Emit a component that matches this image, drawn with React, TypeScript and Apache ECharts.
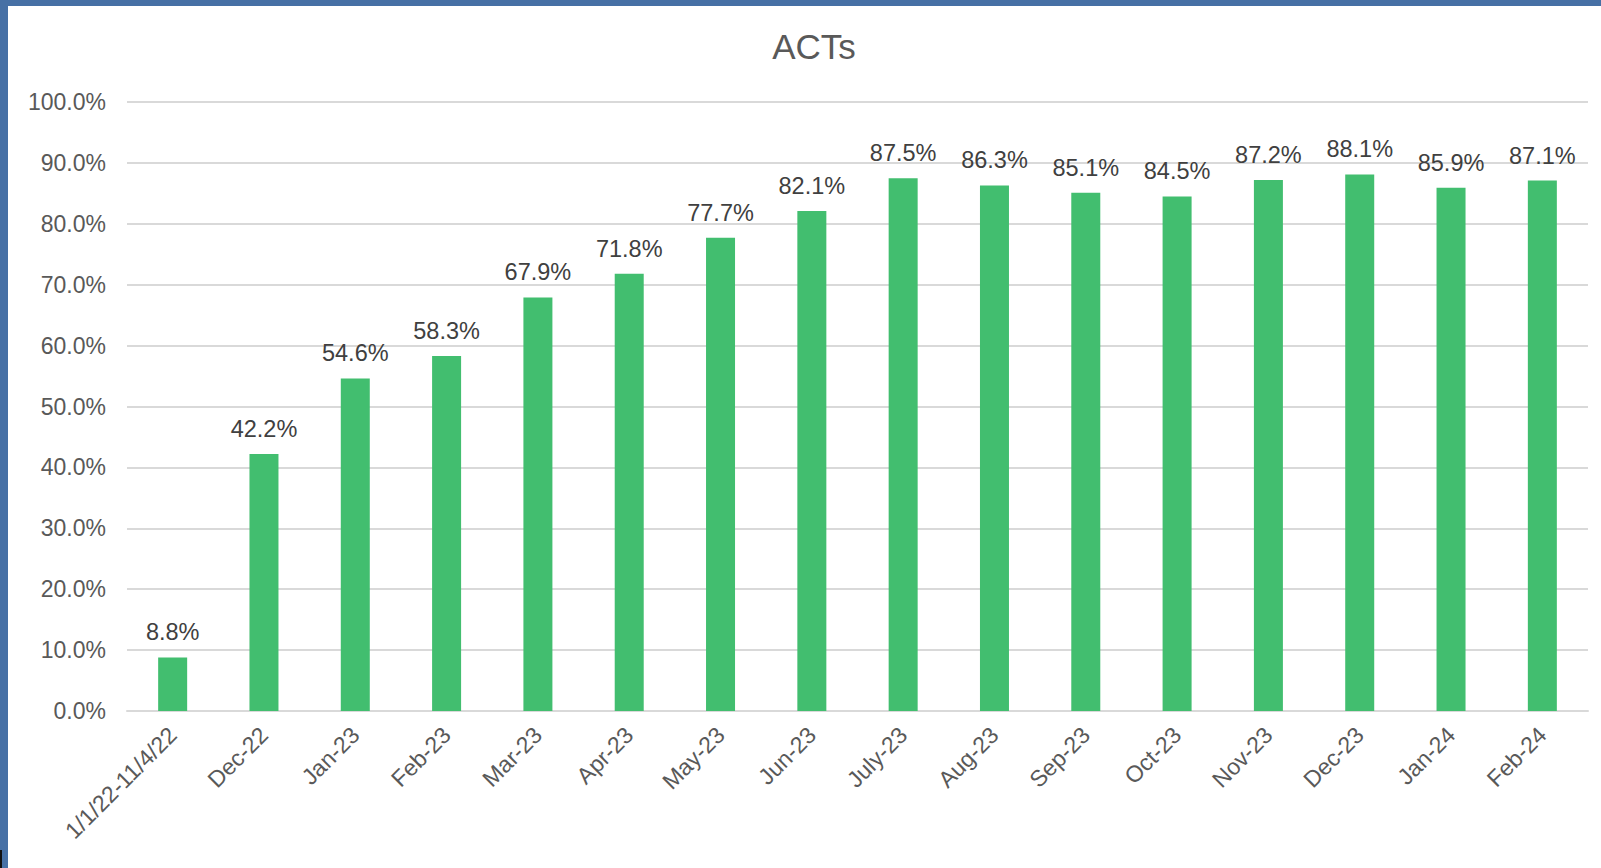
import React, { useEffect, useRef } from "react";
import * as echarts from "echarts";

const categories = [
  "1/1/22-11/4/22", "Dec-22", "Jan-23", "Feb-23", "Mar-23", "Apr-23", "May-23", "Jun-23",
  "July-23", "Aug-23", "Sep-23", "Oct-23", "Nov-23", "Dec-23", "Jan-24", "Feb-24",
];
const values = [8.8, 42.2, 54.6, 58.3, 67.9, 71.8, 77.7, 82.1, 87.5, 86.3, 85.1, 84.5, 87.2, 88.1, 85.9, 87.1];
const titleText = "ACTs";

export default function App() {
  const ref = useRef<HTMLDivElement>(null);
  useEffect(() => {
    if (!ref.current) return;
    const chart = echarts.init(ref.current, null, { renderer: "svg" });
    const font = "'Liberation Sans', Arial, sans-serif";
    chart.setOption({
      animation: false,
      backgroundColor: "#ffffff",
      textStyle: { fontFamily: font },
      title: {
        text: titleText,
        left: 809,
        top: 24,
        textAlign: "center",
        textStyle: { fontSize: 35, fontWeight: "normal", color: "#595959", fontFamily: font },
      },
      graphic: [
        { type: "rect", shape: { x: 0, y: 0, width: 1601, height: 6 }, style: { fill: "#4670A5" } },
        { type: "rect", shape: { x: 0, y: 0, width: 8, height: 868 }, style: { fill: "#4670A5" } },
        { type: "rect", shape: { x: 0, y: 850, width: 2, height: 18 }, style: { fill: "#111111" } },
      ],
      grid: { left: 127, right: 13, top: 102, bottom: 157, containLabel: false },
      xAxis: {
        type: "category",
        data: categories,
        axisLine: { show: true, lineStyle: { color: "#d9d9d9", width: 2 } },
        axisTick: { show: false },
        axisLabel: {
          rotate: 45,
          interval: 0,
          margin: 20,
          fontSize: 23,
          color: "#595959",
          fontFamily: font,
        },
      },
      yAxis: {
        type: "value",
        min: 0,
        max: 100,
        interval: 10,
        axisLine: { show: false },
        axisTick: { show: false },
        splitLine: { lineStyle: { color: "#d9d9d9", width: 2 } },
        axisLabel: {
          formatter: (v: number) => v.toFixed(1) + "%",
          fontSize: 23,
          color: "#595959",
          margin: 21,
          fontFamily: font,
        },
      },
      series: [
        {
          type: "bar",
          data: values,
          barWidth: 29,
          itemStyle: { color: "#42BE6F" },
          label: {
            show: true,
            position: "top",
            distance: 13,
            formatter: (p: any) => p.value.toFixed(1) + "%",
            fontSize: 23.5,
            color: "#404040",
            fontFamily: font,
          },
        },
      ],
    });
    return () => chart.dispose();
  }, []);
  return (
    <div
      ref={ref}
      style={{ position: "absolute", left: 0, top: 0, width: 1601, height: 868 }}
    />
  );
}
